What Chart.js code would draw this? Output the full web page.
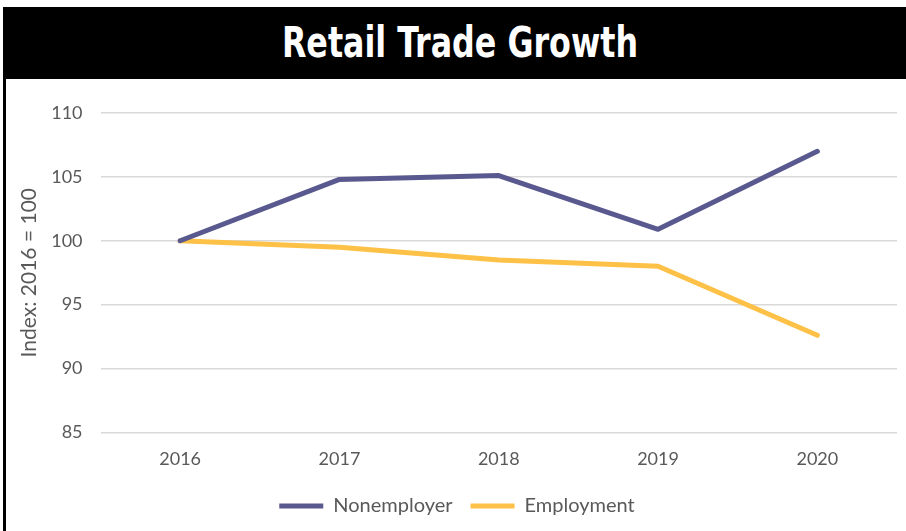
<!DOCTYPE html>
<html>
<head>
<meta charset="utf-8">
<script src="https://cdn.jsdelivr.net/npm/chart.js@4"></script>
<style>
  html, body { margin: 0; padding: 0; background: #fff; }
  #wrap { position: relative; width: 906px; height: 531px; overflow: hidden; }
  #title {
    position: absolute; left: 3px; top: 7px; width: 903px; height: 72px;
    background: #000; color: #fff; text-align: center;
    font-family: "DejaVu Sans Condensed", sans-serif;
    font-weight: bold; font-size: 42px; line-height: 72px;
    padding-left: 10px; box-sizing: border-box;
  }
  #title span { display: inline-block; transform: scaleX(0.84); }
  #edge { position: absolute; left: 3px; top: 79px; width: 3px; height: 452px; background: #000; }
  #box { position: absolute; left: 6px; top: 79px; width: 900px; height: 452px; }
</style>
</head>
<body>
<div id="wrap">
  <div id="title"><span>Retail Trade Growth</span></div>
  <div id="edge"></div>
  <div id="box"><canvas id="chart" width="900" height="452"></canvas></div>
</div>
<script>
// data
const years = ['2016', '2017', '2018', '2019', '2020'];
const nonemployer = [100, 104.8, 105.1, 100.9, 107.0];
const employment = [100, 99.5, 98.5, 98.0, 92.6];
const yTicks = [85, 90, 95, 100, 105, 110];

const grey = '#595959';
const font = { family: 'Lato, "Open Sans", sans-serif', size: 18 };

new Chart(document.getElementById('chart'), {
    type: 'line',
    data: {
        labels: years,
        datasets: [{
            label: 'Nonemployer',
            data: nonemployer,
            borderColor: '#59598F',
            backgroundColor: '#59598F',
            borderWidth: 5,
            borderCapStyle: 'round',
            borderJoinStyle: 'round',
            pointRadius: 0,
            tension: 0
        }, {
            label: 'Employment',
            data: employment,
            borderColor: '#FCC146',
            backgroundColor: '#FCC146',
            borderWidth: 5,
            borderCapStyle: 'round',
            borderJoinStyle: 'round',
            pointRadius: 0,
            tension: 0
        }]
    },
    options: {
        responsive: false,
        animation: false,
        maintainAspectRatio: false,
        layout: { padding: { left: 11, right: 9, top: 34, bottom: 5 } },
        plugins: {
            legend: {
                position: 'bottom',
                labels: {
                    color: grey,
                    font: { family: font.family, size: 20 },
                    usePointStyle: true,
                    pointStyle: 'line',
                    pointStyleWidth: 44,
                    padding: 18
                }
            },
            tooltip: { enabled: false }
        },
        scales: {
            x: {
                offset: true,
                grid: { display: false },
                border: { display: false },
                ticks: { color: grey, font: font, padding: 8, maxRotation: 0 }
            },
            y: {
                min: yTicks[0],
                max: yTicks[yTicks.length - 1],
                afterBuildTicks: axis => { axis.ticks = yTicks.map(v => ({ value: v })); },
                grid: { color: '#D9D9D9', lineWidth: 1.5, drawTicks: false },
                border: { display: false },
                ticks: { color: grey, font: font, padding: 18 },
                title: { display: true, text: 'Index: 2016 = 100', color: grey, font: { family: font.family, size: 21 }, padding: { top: 0, bottom: -9 } }
            }
        }
    }
});
</script>
</body>
</html>
